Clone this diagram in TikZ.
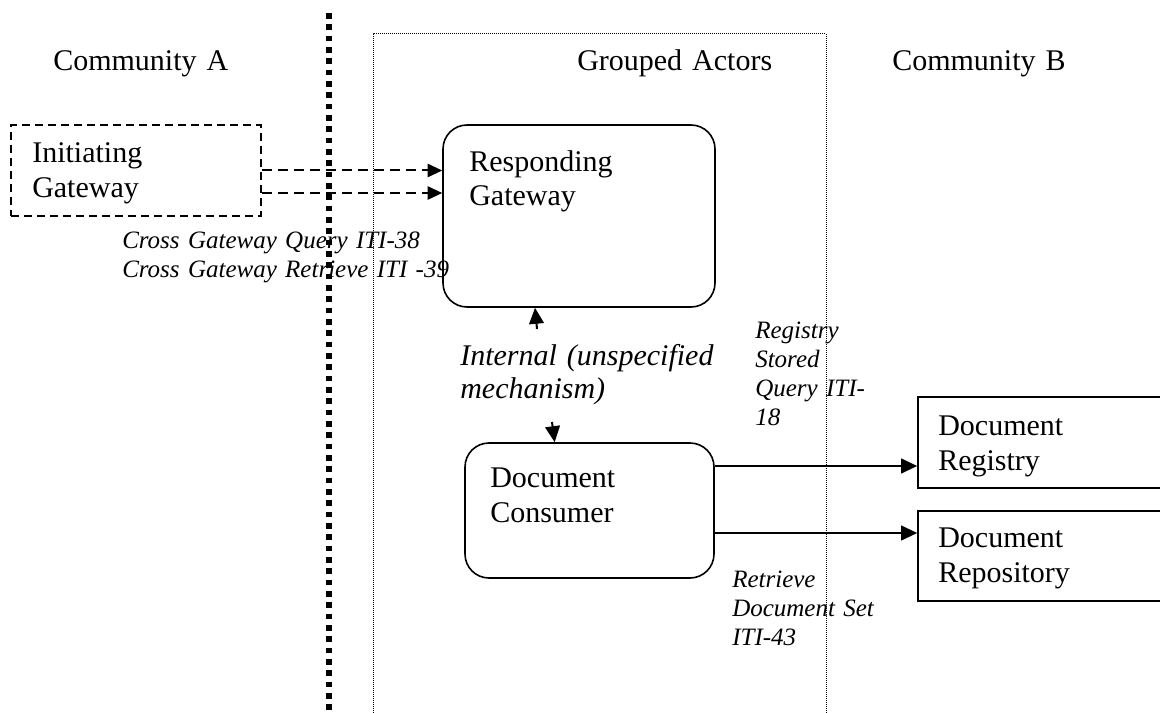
\documentclass[tikz,border=0pt]{standalone}
\usepackage{fontspec}
\setmainfont{Liberation Serif}
\usetikzlibrary{arrows.meta}

\begin{document}
\begin{tikzpicture}[x=0.75pt,y=-0.75pt,
  txt/.style={inner sep=0pt,anchor=base west,align=left,text width=300pt,font=\fontsize{22.5}{26.25}\selectfont},
  note/.style={txt,font=\itshape\fontsize{18.75}{21.75}\selectfont},
  actor/.style={draw,line width=1.2pt,rounded corners=18pt,inner sep=0pt},
  plain/.style={draw,line width=1.2pt,inner sep=0pt},
  flow/.style={line width=1.5pt,-{Triangle[length=12pt,width=11pt]}},
  xflow/.style={line width=1.5pt,dash pattern=on 7.5pt off 4.5pt,-{Triangle[length=11pt,width=10pt]}}]
\path[use as bounding box] (0,0) rectangle (1160,713);
% community borders
\draw[line width=4.5pt,dash pattern=on 4.3pt off 4.2pt] (329,13) -- (329,713);
\draw[line width=0.75pt,dash pattern=on 0.75pt off 0.75pt] (373,713) -- (373,34) -- (826,34) -- (826,713);
\node[txt] (comA) at (53,71) {Community A};
\node[txt] (grp) at (577,71) {Grouped Actors};
\node[txt] (comB) at (892,71) {Community B};
% actors
\node[plain,line width=1pt,dash pattern=on 6pt off 3.75pt,minimum width=187.5pt,minimum height=68.25pt] (ig) at (136,170.5) {};
\node[txt] (ig-name) at (32,163) {Initiating\\Gateway};
\node[actor,minimum width=204pt,minimum height=136.5pt] (rg) at (579,216) {};
\node[txt,font=\fontsize{22.5}{24.75}\selectfont] (rg-name) at (469,172) {Responding\\Gateway};
\node[actor,minimum width=186.75pt,minimum height=101.25pt] (cons) at (589.5,510.5) {};
\node[txt] (cons-name) at (490,487) {Document\\Consumer};
\node[plain,minimum width=225pt,minimum height=68.25pt] (reg) at (1068,442.5) {};
\node[txt] (reg-name) at (938,435) {Document\\Registry};
\node[plain,minimum width=225pt,minimum height=67.5pt] (repo) at (1068,556) {};
\node[txt] (repo-name) at (938,547) {Document\\Repository};
% transactions
\draw[xflow] (ig.east) -- (rg.west |- ig.east);
\draw[xflow] (ig.east |- 0,193) -- (rg.west |- 0,193);
\node[note] (xgq) at (122,248) {Cross Gateway Query ITI-38\\Cross Gateway Retrieve ITI -39};
\coordinate (int-up) at (537,329);
\draw[flow] (int-up) -- ([xshift=-1.5pt]int-up |- rg.south);
\coordinate (int-dn) at (552,422);
\draw[flow] (int-dn) -- ([xshift=2pt]int-dn |- cons.north);
\node[txt,font=\itshape\fontsize{22.5}{24.75}\selectfont] (internal) at (460,365) {Internal (unspecified\\mechanism)};
\draw[flow] (cons.east |- 0,466) -- (reg.west |- 0,466);
\draw[flow] (cons.east |- 0,533) -- (repo.west |- 0,533);
\node[note] (rsq) at (755,338) {Registry\\Stored\\Query ITI-\\18};
\node[note] (rds) at (732,587) {Retrieve\\Document Set\\ITI-43};
\end{tikzpicture}
\end{document}
